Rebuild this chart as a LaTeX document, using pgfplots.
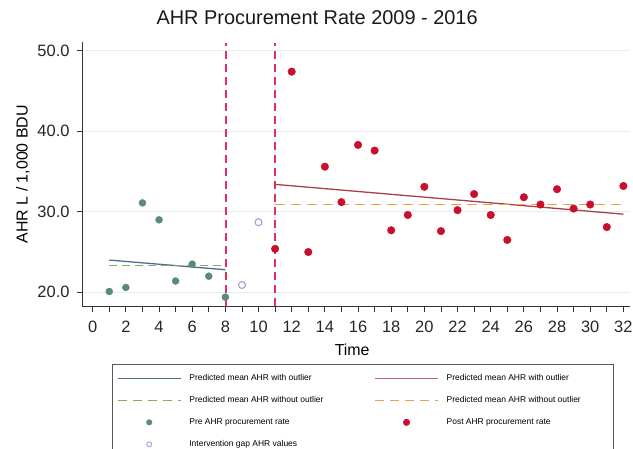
\documentclass[border=0pt]{standalone}
\usepackage{pgfplots}
\pgfplotsset{compat=1.18}
\usepackage{fontspec}
\setmainfont{Liberation Sans}

\definecolor{pregreen}{HTML}{5B8A78}
\definecolor{postred}{HTML}{C8102E}
\definecolor{preline}{HTML}{4A6E95}
\definecolor{postline}{HTML}{A8404A}
\definecolor{predash}{HTML}{8AA860}
\definecolor{postdash}{HTML}{F0A040}
\definecolor{gapcol}{HTML}{A99AD8}
\definecolor{intvcol}{RGB}{226,48,94}
\definecolor{gridc}{HTML}{E4EEEE}
\definecolor{axc}{HTML}{333333}

\pgfplotsset{
  linelegend/.style={legend image code/.code={\draw[##1] (0bp,0bp) -- (63bp,0bp);}},
  marklegend/.style={legend image code/.code={\path (0bp,0bp) (63bp,0bp); \draw[##1] plot coordinates {(31.5bp,0bp)};}},
}

\begin{document}
\begin{tikzpicture}
\path[use as bounding box] (0bp,0bp) rectangle (633bp,449bp);
\clip (0bp,0bp) rectangle (633bp,449bp);
\begin{axis}[
  at={(82bp,142.3bp)}, anchor=south west,
  scale only axis, width=548bp, height=265bp,
  xmin=-0.645, xmax=32.4, ymin=18.21, ymax=51.12,
  axis x line=bottom, axis y line=left,
  axis line style={-, color=axc, line width=1bp},
  tick align=outside,
  major tick length=5bp, minor tick length=5bp,
  every tick/.append style={color=axc, line width=0.8bp},
  xtick={0,2,...,32}, minor xtick={1,3,...,31},
  ytick={20,30,40,50},
  yticklabel style={xshift=-4bp, /pgf/number format/.cd, fixed, fixed zerofill, precision=1},
  /pgf/number format/assume math mode=true,
  tick label style={font=\fontsize{16.5}{18}\selectfont, color=black!85},
  xticklabel style={yshift=-6bp},
  ymajorgrids, grid style={color=gridc, line width=0.8bp},
  title={AHR Procurement Rate 2009 - 2016},
  title style={at={(rel axis cs:0.429,1.067)}, anchor=center, font=\fontsize{20}{24}\selectfont, color=black!90},
  xlabel={Time},
  xlabel style={at={(rel axis cs:0.493,-0.163)}, anchor=center, font=\fontsize{16}{18}\selectfont},
  ylabel={AHR L / 1,000 BDU},
  ylabel style={at={(rel axis cs:-0.108,0.5)}, anchor=center, rotate=0, font=\fontsize{16}{18}\selectfont},
  legend columns=2,
  legend cell align=left,
  legend style={at={(rel axis cs:0.054,-0.216)}, anchor=north west,
    draw=black!65, line width=1bp, inner xsep=5bp, inner ysep=8bp,
    font=\fontsize{8.5}{10}\selectfont, row sep=10.5bp,
    /tikz/every odd column/.style={column sep=6bp}},
]
% vertical intervention lines
\addplot[forget plot, color=intvcol, line width=1.8bp, dash pattern=on 8bp off 5bp] coordinates {(8.02,18.3) (8.02,51.0)};
\addplot[forget plot, color=intvcol, line width=1.8bp, dash pattern=on 8bp off 5bp] coordinates {(11,18.3) (11,51.0)};
% fitted lines
\addplot[forget plot, color=preline, line width=1.3bp] coordinates {(1,24.0) (8,22.8)};
\addplot[forget plot, color=predash, line width=1.4bp, dash pattern=on 8bp off 5bp] coordinates {(1,23.35) (8,23.35)};
\addplot[forget plot, color=postline, line width=1.3bp] coordinates {(11,33.4) (32,29.7)};
\addplot[forget plot, color=postdash, line width=1.6bp, dash pattern=on 10bp off 6bp] coordinates {(11,30.9) (32,30.9)};
% points
\addplot[forget plot, only marks, mark=*, mark size=3.5bp, color=pregreen] coordinates {
(1,20.1) (2,20.6) (3,31.1) (4,29.0) (5,21.4) (6,23.5) (7,22.0) (8,19.4)};
\addplot[forget plot, only marks, mark=o, mark size=3.5bp, color=gapcol, line width=1.1bp] coordinates {
(9,20.9) (10,28.7)};
\addplot[forget plot, only marks, mark=*, mark size=3.8bp, color=postred] coordinates {
(11,25.4) (12,47.4) (13,25.0) (14,35.6) (15,31.2) (16,38.3) (17,37.6) (18,27.7)
(19,29.6) (20,33.1) (21,27.6) (22,30.2) (23,32.2) (24,29.6) (25,26.5) (26,31.8)
(27,30.9) (28,32.8) (29,30.4) (30,30.9) (31,28.1) (32,33.2)};
% legend
\addlegendimage{linelegend, color=preline, line width=1.3bp}
\addlegendentry{\makebox[183bp][l]{Predicted mean AHR with outlier}}
\addlegendimage{linelegend, color=postline!80, line width=1.3bp}
\addlegendentry{\makebox[160bp][l]{Predicted mean AHR with outlier}}
\addlegendimage{linelegend, color=predash, line width=1.3bp, dash pattern=on 9bp off 6bp}
\addlegendentry{\makebox[183bp][l]{Predicted mean AHR without outlier}}
\addlegendimage{linelegend, color=postdash, line width=1.3bp, dash pattern=on 9bp off 6bp}
\addlegendentry{\makebox[160bp][l]{Predicted mean AHR without outlier}}
\addlegendimage{only marks, mark=*, mark size=2.5bp, color=pregreen, marklegend}
\addlegendentry{\makebox[183bp][l]{Pre AHR procurement rate}}
\addlegendimage{only marks, mark=*, mark size=3bp, color=postred, marklegend}
\addlegendentry{\makebox[160bp][l]{Post AHR procurement rate}}
\addlegendimage{only marks, mark=o, mark size=2.5bp, color=gapcol, line width=0.9bp, marklegend}
\addlegendentry{\makebox[183bp][l]{Intervention gap AHR values}}
\end{axis}
\end{tikzpicture}
\end{document}
